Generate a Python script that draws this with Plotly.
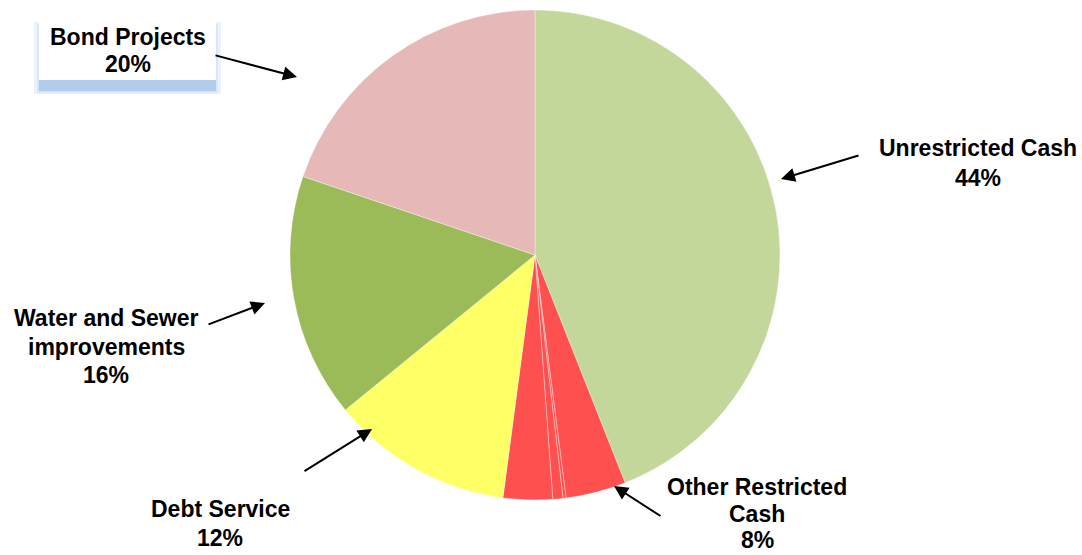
import plotly.graph_objects as go

# ---- data ----
categories = ["Unrestricted Cash", "Other Restricted Cash A", "Other Restricted Cash B",
              "Other Restricted Cash C", "Other Restricted Cash D",
              "Debt Service", "Water and Sewer improvements", "Bond Projects"]
values = [44.0, 3.97, 0.2, 0.67, 3.25, 12.0, 16.1, 19.8]
colors = ["#C4D79B", "#FF5050", "#FF5050", "#FF5050", "#FF5050",
          "#FFFF66", "#9BBB59", "#E6B9B8"]

# label groups (display text lines, members of the group)
label_lines = {
    "Unrestricted Cash": ["Unrestricted Cash"],
    "Other Restricted Cash": ["Other Restricted", "Cash"],
    "Debt Service": ["Debt Service"],
    "Water and Sewer improvements": ["Water and Sewer", "improvements"],
    "Bond Projects": ["Bond Projects"],
}
group_members = {
    "Unrestricted Cash": ["Unrestricted Cash"],
    "Other Restricted Cash": ["Other Restricted Cash A", "Other Restricted Cash B",
                              "Other Restricted Cash C", "Other Restricted Cash D"],
    "Debt Service": ["Debt Service"],
    "Water and Sewer improvements": ["Water and Sewer improvements"],
    "Bond Projects": ["Bond Projects"],
}

W, H = 1082, 555
total = sum(values)

def px(x):
    return x / W

def py(y):
    return 1 - y / H

fig = go.Figure(go.Pie(
    labels=categories, values=values, sort=False, direction="clockwise", rotation=0,
    marker=dict(colors=colors, line=dict(color="rgba(255,255,255,0.45)", width=0.8)),
    textinfo="none", hoverinfo="label+percent", showlegend=False,
    domain=dict(x=[px(535 - 245), px(535 + 245)], y=[py(255 + 245), py(255 - 245)]),
))

# layout: text placement (center x, first line y, line step) and arrows (tail -> head)
placement = {
    "Unrestricted Cash": (978, 148, 30),
    "Other Restricted Cash": (757, 487, 26.5),
    "Debt Service": (220, 509, 29),
    "Water and Sewer improvements": (106, 318, 28.5),
    "Bond Projects": (128, 37, 27),
}
arrows = {
    "Unrestricted Cash": ((860, 155), (781, 179)),
    "Other Restricted Cash": ((662, 517), (614, 486)),
    "Debt Service": ((303, 472), (372, 429)),
    "Water and Sewer improvements": ((207, 325), (265, 303)),
    "Bond Projects": ((214, 55), (297, 77)),
}

annotations = []
font = dict(family="Liberation Sans, Arial, sans-serif", size=23, color="black", weight="bold")
for group, lines in label_lines.items():
    pct = sum(values[categories.index(m)] for m in group_members[group]) / total * 100
    all_lines = lines + [f"{round(pct):d}%"]
    cx, y0, step = placement[group]
    for i, t in enumerate(all_lines):
        annotations.append(dict(
            x=px(cx), y=py(y0 + i * step), xref="paper", yref="paper",
            text=t, showarrow=False, xanchor="center", yanchor="middle", font=font,
            borderpad=0))
    (tx, ty), (hx, hy) = arrows[group]
    annotations.append(dict(
        x=px(hx), y=py(hy), xref="paper", yref="paper", text="",
        showarrow=True, ax=tx - hx, ay=ty - hy, arrowhead=2, arrowsize=1.4,
        arrowwidth=2, arrowcolor="black", standoff=0, startstandoff=0))

# Bond Projects callout box with soft blue shadow
shapes = [
    dict(type="rect", xref="paper", yref="paper", x0=px(34), x1=px(221), y0=py(94), y1=py(22),
         fillcolor="rgba(200,218,242,0.35)", line=dict(width=0), layer="below"),
    dict(type="rect", xref="paper", yref="paper", x0=px(37), x1=px(218), y0=py(93), y1=py(24),
         fillcolor="rgba(185,206,238,0.35)", line=dict(width=0), layer="below"),
    dict(type="rect", xref="paper", yref="paper", x0=px(39), x1=px(216), y0=py(91), y1=py(80),
         fillcolor="rgba(150,185,228,0.6)", line=dict(width=0), layer="below"),
    dict(type="rect", xref="paper", yref="paper", x0=px(39), x1=px(216), y0=py(80), y1=py(10),
         fillcolor="white", line=dict(width=0), layer="below"),
]

fig.update_layout(
    width=W, height=H, margin=dict(l=0, r=0, t=0, b=0),
    paper_bgcolor="white", plot_bgcolor="white",
    annotations=annotations, shapes=shapes,
)

fig.write_html("out.html", config={"displayModeBar": False},
               post_script="document.body.style.margin='0';document.body.style.overflow='hidden';")
